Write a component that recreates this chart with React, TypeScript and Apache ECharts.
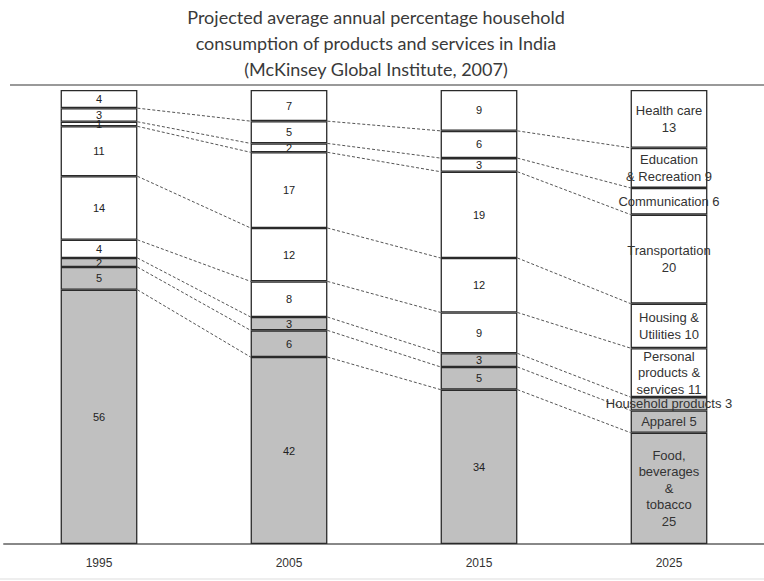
import React, { useEffect, useRef } from "react";
import * as echarts from "echarts";

const years = ["1995", "2005", "2015", "2025"];
// bottom to top
const seriesNames = [
  "Food, beverages & tobacco",
  "Apparel",
  "Household products",
  "Personal products & services",
  "Housing & Utilities",
  "Transportation",
  "Communication",
  "Education & Recreation",
  "Health care",
];
const food = [56, 42, 34, 25];
const apparel = [5, 6, 5, 5];
const household = [2, 3, 3, 3];
const personal = [4, 8, 9, 11];
const housing = [14, 12, 12, 10];
const transport = [11, 17, 19, 20];
const communication = [1, 2, 3, 6];
const education = [3, 5, 6, 9];
const health = [4, 7, 9, 13];
const lastLabels = [
  "Food,\nbeverages\n&\ntobacco\n25",
  "Apparel 5",
  "Household products 3",
  "Personal\nproducts &\nservices 11",
  "Housing &\nUtilities 10",
  "Transportation\n20",
  "Communication 6",
  "Education\n& Recreation 9",
  "Health care\n13",
];
const titleLines = [
  "Projected average annual percentage household",
  "consumption of products and services in India",
  "(McKinsey Global Institute, 2007)",
];
const grayFlags = [true, true, true, false, false, false, false, false, false];

const allValues = [food, apparel, household, personal, housing, transport, communication, education, health];

export default function App() {
  const ref = useRef<HTMLDivElement>(null);
  useEffect(() => {
    if (!ref.current) return;
    const chart = echarts.init(ref.current, null, { renderer: "svg" });
    const totals = years.map((_, i) => allValues.reduce((s, arr) => s + arr[i], 0));
    const norm = allValues.map((arr) => arr.map((v, i) => (v / totals[i]) * 100));
    const cum: number[][] = years.map((_, i) => {
      const out: number[] = [];
      let s = 0;
      for (let k = 0; k < norm.length - 1; k++) {
        s += norm[k][i];
        out.push(s);
      }
      return out;
    });
    const connData: number[][] = [];
    for (let g = 0; g < years.length - 1; g++) {
      for (let b = 0; b < cum[g].length; b++) {
        connData.push([g, cum[g][b], cum[g + 1][b]]);
      }
    }
    const barFrac = 0.404;
    const barSeries = allValues.map((arr, k) => ({
      type: "bar",
      name: seriesNames[k],
      stack: "total",
      barWidth: "40.4%",
      data: arr.map((v, i) => {
        const item: any = { value: norm[k][i], raw: v };
        if (i === 3) {
          item.label = { fontSize: 13, lineHeight: 16.5, color: "#333" };
        }
        return item;
      }),
      itemStyle: {
        color: grayFlags[k] ? "#c0c0c0" : "#ffffff",
        borderColor: "#2a2a2a",
        borderWidth: 1.3,
      },
      label: {
        show: true,
        position: "inside",
        color: "#222",
        fontFamily: "Liberation Sans, Arial, sans-serif",
        fontSize: 11,
        lineHeight: 14,
        formatter: (p: any) => (p.dataIndex === 3 ? lastLabels[k] : String(p.data.raw)),
      },
      z: 3,
    }));
    const connector = {
      type: "custom",
      data: connData,
      z: 2,
      silent: true,
      renderItem: (params: any, api: any) => {
        const g = api.value(0);
        const p1 = api.coord([g, api.value(1)]);
        const p2 = api.coord([g + 1, api.value(2)]);
        const band = api.size([1, 0])[0];
        const hw = (band * barFrac) / 2;
        return {
          type: "line",
          shape: { x1: p1[0] + hw, y1: p1[1], x2: p2[0] - hw, y2: p2[1] },
          style: { stroke: "#555", lineWidth: 1, lineDash: [3, 2] },
        };
      },
    };
    chart.setOption({
      animation: false,
      backgroundColor: "#ffffff",
      grid: { left: 4, right: -13, top: 90, bottom: 37 },
      xAxis: {
        type: "category",
        data: years,
        axisTick: { show: false },
        axisLine: { lineStyle: { color: "#888", width: 2 } },
        axisLabel: {
          color: "#333",
          fontSize: 12,
          margin: 13,
          fontFamily: "Liberation Sans, Arial, sans-serif",
        },
      },
      yAxis: { type: "value", min: 0, max: 100, show: false, splitLine: { show: false } },
      series: [connector, ...barSeries],
      graphic: [
        ...titleLines.map((t, i) => ({
          type: "text",
          x: 376,
          y: 17 + i * 26,
          style: {
            text: t,
            textAlign: "center",
            textVerticalAlign: "middle",
            fontFamily: "Lato, 'Open Sans', sans-serif",
            fontSize: 18,
            fill: "#3a3a3a",
          },
        })),
        {
          type: "line",
          shape: { x1: 10, y1: 85, x2: 764, y2: 85 },
          style: { stroke: "#999", lineWidth: 2 },
        },
        {
          type: "line",
          shape: { x1: 0, y1: 579, x2: 764, y2: 579 },
          style: { stroke: "#ddd", lineWidth: 1 },
        },
      ],
    });
    return () => chart.dispose();
  }, []);
  return (
    <div
      ref={ref}
      style={{ width: 764, height: 581, position: "absolute", left: 0, top: 0 }}
    />
  );
}
